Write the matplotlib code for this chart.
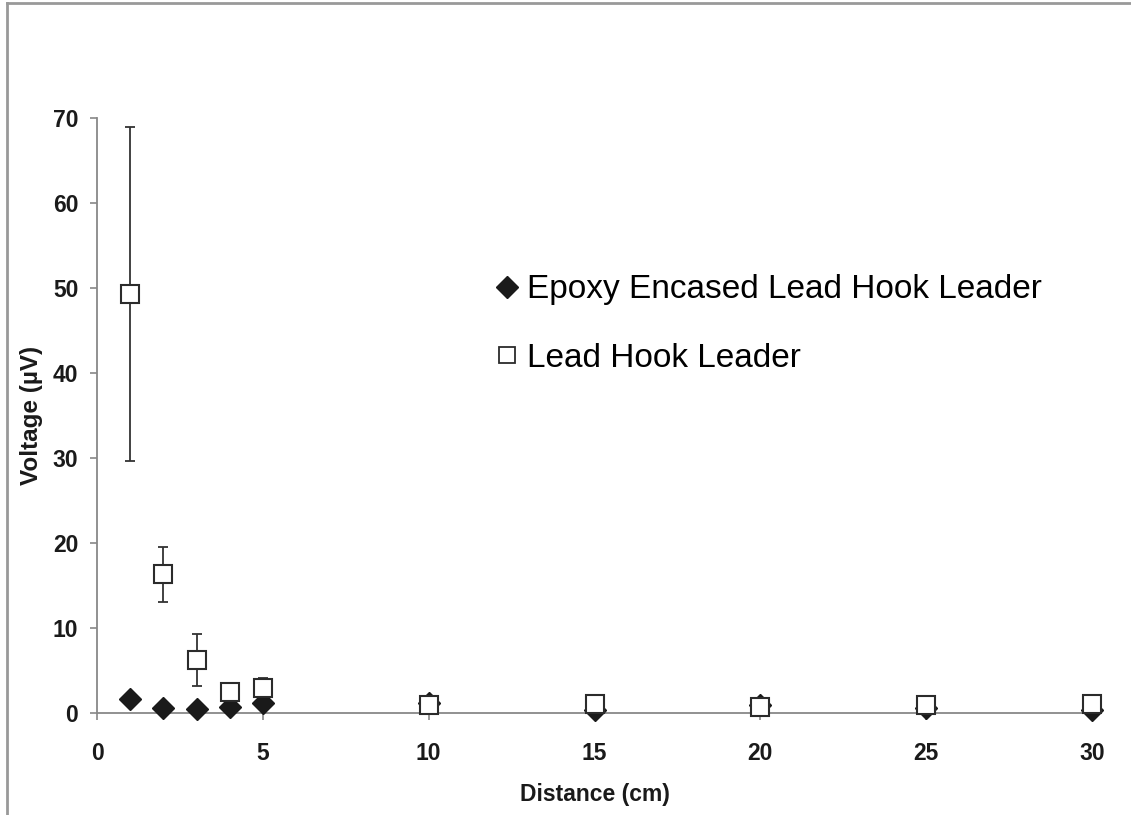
import matplotlib
matplotlib.use("Agg")
import matplotlib.pyplot as plt
from matplotlib.lines import Line2D

plt.rcParams["font.family"] = ["Liberation Sans", "DejaVu Sans"]

# 数据：距离 (cm) 与电压 (µV)
distance = [1, 2, 3, 4, 5, 10, 15, 20, 25, 30]
epoxy_voltage = [1.65, 0.6, 0.5, 0.7, 1.2, 1.2, 0.4, 1.0, 0.6, 0.4]
lead_voltage = [49.3, 16.3, 6.2, 2.5, 3.0, 0.9, 1.05, 0.65, 0.95, 1.05]
lead_err = [19.7, 3.2, 3.05, 0.3, 1.1, 0.3, 0.3, 0.3, 0.3, 0.3]

series_labels = ["Epoxy Encased Lead Hook Leader", "Lead Hook Leader"]
x_ticks = [0, 5, 10, 15, 20, 25, 30]
y_ticks = [0, 10, 20, 30, 40, 50, 60, 70]

fig = plt.figure(figsize=(11.31, 8.15), dpi=100)
ax = fig.add_axes([97 / 1131, 1 - 713 / 815, (1092 - 97) / 1131, (713 - 118) / 815])

ax.errorbar(distance, lead_voltage, yerr=lead_err, fmt="none",
            ecolor="#333333", elinewidth=1.3, capsize=3.6, capthick=1.3, zorder=2)
ax.plot(distance, epoxy_voltage, linestyle="none", marker="D", markersize=11,
        color="#1a1a1a", zorder=3, clip_on=False)
ax.plot(distance, lead_voltage, linestyle="none", marker="s", markersize=12.5,
        markerfacecolor="white", markeredgecolor="#2b2b2b", markeredgewidth=1.5,
        zorder=4, clip_on=False)

ax.set_xlim(0, 30)
ax.set_ylim(0, 70)
ax.set_xticks(x_ticks)
ax.set_yticks(y_ticks)
ax.tick_params(axis="both", direction="out", length=5, width=1.2, color="#888888",
               labelsize=16.5)
ax.tick_params(axis="x", pad=16)
ax.tick_params(axis="y", pad=8.5)
for lab in ax.get_xticklabels() + ax.get_yticklabels():
    lab.set_fontweight("bold")
    lab.set_color("#1a1a1a")

ax.spines[["top", "right"]].set_visible(False)
for side in ("left", "bottom"):
    ax.spines[side].set_color("#888888")
    ax.spines[side].set_linewidth(1.3)

ax.set_xlabel("Distance (cm)", fontsize=16.5, fontweight="bold", color="#1a1a1a", labelpad=13)
ax.set_ylabel("Voltage (µV)", fontsize=17.5, fontweight="bold", color="#1a1a1a", labelpad=7)

handles = [
    Line2D([], [], linestyle="none", marker="D", markersize=11, color="#1a1a1a"),
    Line2D([], [], linestyle="none", marker="s", markersize=12,
           markerfacecolor="white", markeredgecolor="#2b2b2b", markeredgewidth=1.3),
]
ax.legend(handles, series_labels, loc="center left",
          bbox_to_anchor=(495 / 1131, 1 - 324 / 815), bbox_transform=fig.transFigure,
          frameon=False, fontsize=24, handlelength=0.7, handletextpad=0.25,
          labelspacing=1.12, borderaxespad=0, borderpad=0)

# 外框（左、上两条灰线）
fig.add_artist(Line2D([7 / 1131, 7 / 1131], [0, 1 - 3 / 815], transform=fig.transFigure,
                      color="#999999", linewidth=2))
fig.add_artist(Line2D([7 / 1131, 1], [1 - 3 / 815, 1 - 3 / 815], transform=fig.transFigure,
                      color="#999999", linewidth=2))

fig.savefig("out.png", dpi=100)
